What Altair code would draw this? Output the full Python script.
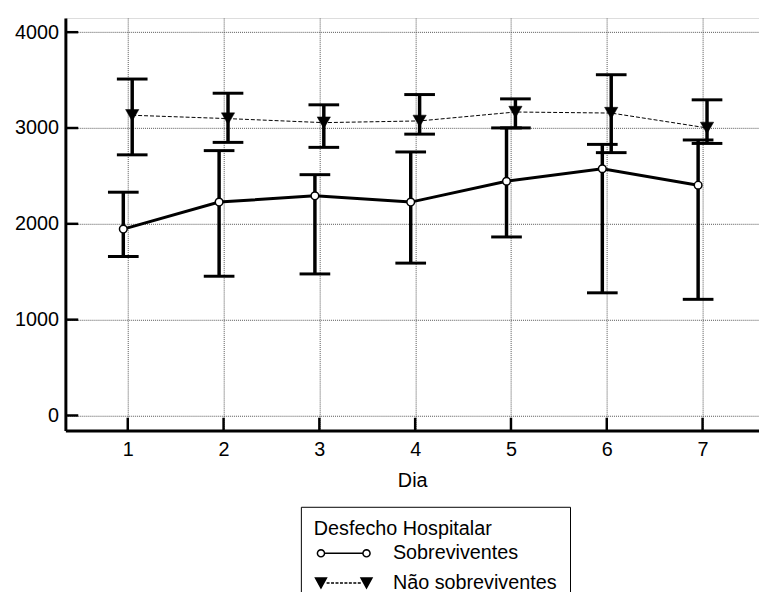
import math
import altair as alt
import pandas as pd

# ---------------- data ----------------
days = [1, 2, 3, 4, 5, 6, 7]
series_names = ["Sobreviventes", "Não sobreviventes"]

surv_mean = [1945, 2227, 2292, 2227, 2444, 2575, 2403]
surv_low = [1659, 1453, 1477, 1590, 1863, 1280, 1212]
surv_high = [2330, 2764, 2513, 2750, 3001, 2829, 2875]

nonsurv_mean = [3133, 3098, 3056, 3074, 3167, 3156, 3001]
nonsurv_low = [2720, 2850, 2798, 2936, 3001, 2743, 2839]
nonsurv_high = [3511, 3363, 3242, 3349, 3304, 3556, 3294]

y_tick_values = [0, 1000, 2000, 3000, 4000]
x_title = "Dia"
legend_title = "Desfecho Hospitalar"

rows = []
for i, d in enumerate(days):
    rows.append({"day": d, "series": series_names[0], "mean": surv_mean[i],
                 "low": surv_low[i], "high": surv_high[i]})
    rows.append({"day": d, "series": series_names[1], "mean": nonsurv_mean[i],
                 "low": nonsurv_low[i], "high": nonsurv_high[i]})
df = pd.DataFrame(rows)
df_yt = pd.DataFrame({"tick": y_tick_values})
df_xt = pd.DataFrame({"day": days})

# ---------------- style ----------------
W, H = 701, 417
FONT = "Liberation Sans"
FS = 20
GRID = "#555555"
OFF = 4.5

xscale = alt.Scale(domain=[0.349, 7.589], nice=False, zero=False)
yscale = alt.Scale(domain=[-158, 4148], nice=False, zero=False)

common_axis = dict(grid=True, gridColor=GRID, gridDash=[1, 1], gridWidth=1,
                   ticks=False, domain=True, domainColor="black", domainWidth=3,
                   labelFont=FONT, labelFontSize=FS, labelColor="black",
                   labelFlush=False, format="d")
xaxis = alt.Axis(values=days, title=x_title, labelPadding=9,
                 titleFont=FONT, titleFontSize=FS, titleFontWeight="normal",
                 titleColor="black", titlePadding=11, **common_axis)
yaxis = alt.Axis(values=y_tick_values, title=None, labelPadding=7, **common_axis)


def X(field):
    return alt.X(f"{field}:Q", scale=xscale, axis=xaxis)


def Y(field):
    return alt.Y(f"{field}:Q", scale=yscale, axis=yaxis)


sobr = alt.datum.series == series_names[0]
nao = alt.datum.series == series_names[1]
base = alt.Chart(df)

# lines
line_s = base.transform_filter(sobr).mark_line(
    color="black", strokeWidth=3, xOffset=-OFF).encode(x=X("day"), y=Y("mean"))
line_n = base.transform_filter(nao).mark_line(
    color="black", strokeWidth=1, strokeDash=[4, 2], xOffset=OFF).encode(x=X("day"), y=Y("mean"))


# error bars
def err_layers(flt, off):
    rule = base.transform_filter(flt).mark_rule(
        color="black", strokeWidth=3.5, xOffset=off).encode(
        x=X("day"), y=Y("low"), y2=alt.Y2("high"))
    caps = base.transform_filter(flt).transform_fold(
        ["low", "high"], as_=["bound", "val"]).mark_tick(
        color="black", orient="horizontal", size=31, thickness=3, opacity=1,
        xOffset=off).encode(x=X("day"), y=Y("val"))
    return [rule, caps]


# points
pts_s = base.transform_filter(sobr).mark_point(
    shape="circle", filled=True, fill="white", stroke="black", strokeWidth=1.5,
    size=60, opacity=1, xOffset=-OFF).encode(x=X("day"), y=Y("mean"))
pts_n = base.transform_filter(nao).mark_point(
    shape="triangle-down", filled=True, fill="black", stroke="black", strokeWidth=0.5,
    size=180, opacity=1, xOffset=OFF).encode(x=X("day"), y=Y("mean"))

# inward axis ticks
ytick = alt.Chart(df_yt).mark_rule(color="black", strokeWidth=2.5).encode(
    y=Y("tick"), x=alt.value(0), x2=alt.value(13))
xtick = alt.Chart(df_xt).mark_rule(color="black", strokeWidth=2.5).encode(
    x=X("day"), y=alt.value(H - 13), y2=alt.value(H))

# legend symbols (custom paths, unit = sqrt(size)/2 px)
CX1, CX2 = -0.45, 7.22


def poly_circle(cx, r, n=16):
    pts = [(cx + r * math.cos(2 * math.pi * k / n), r * math.sin(2 * math.pi * k / n))
           for k in range(n)]
    return "M" + " L".join(f"{x:.3f},{y:.3f}" for x, y in pts) + " Z"


def tri(cx, hw=0.92, hh=0.83):
    return f"M{cx - hw:.3f},{-hh:.3f} L{cx + hw:.3f},{-hh:.3f} L{cx:.3f},{hh:.3f} Z"


RC = 0.6
path_s = (poly_circle(CX1, RC) + f" M{CX1 + RC:.3f},0 L{CX2 - RC:.3f},0 "
          + poly_circle(CX2, RC))
dash_parts = []
xs = CX1 + 0.95
while xs < CX2 - 0.95:
    xe = min(xs + 0.5, CX2 - 0.95)
    dash_parts.append(f"M{xs:.3f},0 L{xe:.3f},0")
    xs += 0.75
path_n = tri(CX1) + " " + " ".join(dash_parts) + " " + tri(CX2)

legend = alt.Legend(
    title=legend_title, orient="none", legendX=238, legendY=494, direction="vertical",
    titleFont=FONT, titleFontSize=FS, titleFontWeight="normal", titleColor="black",
    titleLimit=500, labelLimit=500,
    labelFont=FONT, labelFontSize=FS, labelColor="black",
    strokeColor="black", padding=13, symbolSize=144, symbolStrokeWidth=1.5,
    symbolStrokeColor="black", symbolOpacity=1, labelOffset=60, rowPadding=10,
    titlePadding=4)

legend_layer = base.transform_filter("datum.day < 0").mark_point(
    filled=True, stroke="black", strokeWidth=1.5, opacity=1, size=144).encode(
    x=X("day"), y=Y("mean"),
    shape=alt.Shape("series:N", scale=alt.Scale(domain=series_names, range=[path_s, path_n]),
                    legend=legend),
    fill=alt.Fill("series:N", scale=alt.Scale(domain=series_names, range=["white", "black"]),
                  legend=legend),
    stroke=alt.Stroke("series:N", scale=alt.Scale(domain=series_names, range=["black", "black"]),
                      legend=legend))

chart = alt.layer(
    line_n, line_s,
    *err_layers(nao, OFF), *err_layers(sobr, -OFF),
    pts_n, pts_s, ytick, xtick, legend_layer
).properties(
    width=W, height=H,
    autosize=alt.AutoSizeParams(type="none"),
    padding={"left": 58, "top": 7, "right": 0, "bottom": 160},
).configure_view(stroke=None).configure_legend(strokeWidth=2).configure(font=FONT)

chart.save("out.html", embed_options={"renderer": "svg", "actions": False})
